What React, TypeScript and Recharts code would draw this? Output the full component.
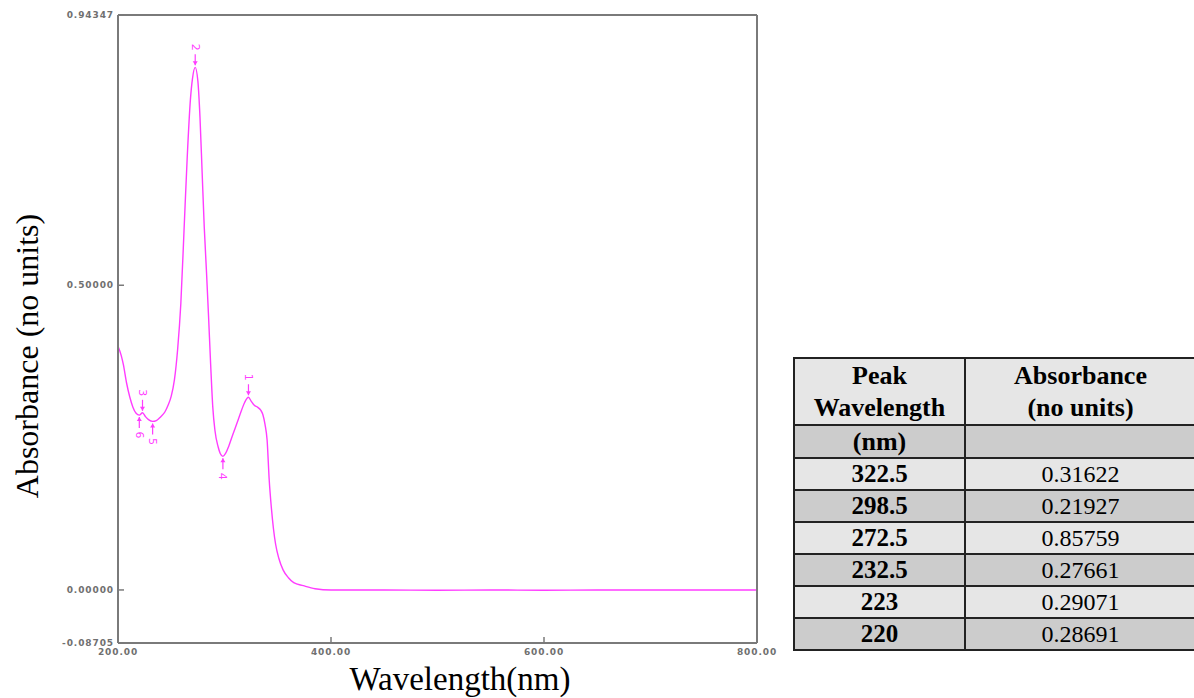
import { LineChart, Line, XAxis, YAxis, ReferenceDot } from 'recharts';

// UV-Vis absorbance spectrum
const wavelengths = [
  200, 203, 205, 208, 211, 214, 217, 220, 223, 226, 229, 232.5, 236, 240, 244, 247, 250, 253, 256, 259,
  262, 265, 268, 270, 272.5, 275, 277, 279, 281, 283, 285, 287, 289, 291, 294, 296, 298.5, 301, 304,
  308, 312, 316, 319, 322.5, 325, 328, 331, 334, 336, 338, 340, 342, 344, 346, 348, 351, 355, 360,
  365, 374, 385, 400, 450, 500, 550, 600, 650, 700, 750, 800,
];
const absorbance = [
  0.4, 0.385, 0.37, 0.34, 0.317, 0.3, 0.29, 0.28691, 0.29071, 0.284, 0.279, 0.27661, 0.278, 0.284, 0.292,
  0.303, 0.318, 0.345, 0.395, 0.47, 0.59, 0.71, 0.805, 0.84, 0.85759, 0.835, 0.775, 0.685, 0.595, 0.525,
  0.45, 0.37, 0.3, 0.262, 0.235, 0.224, 0.21927, 0.224, 0.236, 0.256, 0.275, 0.295, 0.308, 0.31622,
  0.31, 0.303, 0.3, 0.295, 0.288, 0.272, 0.246, 0.18, 0.135, 0.1, 0.075, 0.052, 0.033, 0.02, 0.012,
  0.007, 0.002, 0.0, 0.0, -0.0005, 0.0, -0.0005, 0.0, 0.0, 0.0, 0.0,
];

const xTicks = [200, 400, 600, 800];
const yTicks = [-0.08705, 0, 0.5, 0.94347];

// numbered peak / valley markers on the trace
const peakIds = [1, 2, 3, 4, 5, 6];
const peakNm = [322.5, 272.5, 223, 298.5, 232.5, 220];
const peakAbs = [0.31622, 0.85759, 0.29071, 0.21927, 0.27661, 0.28691];
const peakUp = [true, true, true, false, false, false];

// table on the right
const tableNm = ['322.5', '298.5', '272.5', '232.5', '223', '220'];
const tableAbs = ['0.31622', '0.21927', '0.85759', '0.27661', '0.29071', '0.28691'];

const PINK = '#ff3cff';
const AXIS = '#7a7a7a';

const data = wavelengths.map((nm, i) => ({ nm, abs: absorbance[i] }));

const tickStyle = {
  fontFamily: '"DejaVu Sans", sans-serif',
  fontSize: 9,
  fontWeight: 700,
  letterSpacing: 0.9,
  fill: '#707070',
};

const PeakMark = (props: any) => {
  const { cx, cy, id, up } = props;
  const s = up ? -1 : 1;
  const tip = cy + s * 2;
  const ty = tip + s * 18;
  return (
    <g>
      <line x1={cx} y1={tip} x2={cx} y2={tip + s * 11} stroke={PINK} strokeWidth={1.2} />
      <path d={`M${cx - 2.5},${tip + s * 4} L${cx},${tip} L${cx + 2.5},${tip + s * 4}Z`} fill={PINK} />
      <text
        x={cx}
        y={ty}
        transform={`rotate(90 ${cx} ${ty})`}
        textAnchor="middle"
        dominantBaseline="central"
        fontFamily='"DejaVu Sans", sans-serif'
        fontSize={11}
        fill={PINK}
      >
        {id}
      </text>
    </g>
  );
};

const rowBg = (i: number) => (i % 2 === 0 ? '#e6e6e6' : '#cccccc');

const cell = {
  border: '2px solid #222',
  padding: 0,
  textAlign: 'center' as const,
  fontFamily: '"Liberation Serif", "Times New Roman", serif',
  lineHeight: 1.2,
};

export default function App() {
  return (
    <div style={{ position: 'absolute', left: 0, top: 0, width: 1194, height: 698, background: '#fff', overflow: 'hidden' }}>
      <LineChart width={790} height={698} data={data} margin={{ top: 14, right: 32, left: 0, bottom: 25 }}>
        <XAxis
          dataKey="nm"
          type="number"
          domain={[200, 800]}
          ticks={xTicks}
          interval={0}
          tickFormatter={(v: number) => v.toFixed(2)}
          tick={tickStyle}
          tickSize={-6}
          tickMargin={12}
          height={30}
          axisLine={{ stroke: AXIS, strokeWidth: 2 }}
          tickLine={{ stroke: AXIS, strokeWidth: 1.5 }}
        />
        <XAxis
          xAxisId="top"
          orientation="top"
          dataKey="nm"
          type="number"
          domain={[200, 800]}
          height={1}
          tick={() => <g />}
          tickLine={false}
          axisLine={{ stroke: AXIS, strokeWidth: 2 }}
        />
        <YAxis
          type="number"
          domain={[-0.08705, 0.94347]}
          ticks={yTicks}
          interval={0}
          allowDataOverflow
          tickFormatter={(v: number) => v.toFixed(5)}
          tick={tickStyle}
          tickSize={-6}
          tickMargin={10}
          width={118}
          axisLine={{ stroke: AXIS, strokeWidth: 2 }}
          tickLine={{ stroke: AXIS, strokeWidth: 1.5 }}
        />
        <YAxis
          yAxisId="right"
          orientation="right"
          type="number"
          domain={[-0.08705, 0.94347]}
          ticks={[0.5]}
          interval={0}
          width={1}
          tick={() => <g />}
          tickSize={-7}
          axisLine={{ stroke: AXIS, strokeWidth: 2 }}
          tickLine={{ stroke: AXIS, strokeWidth: 1.5 }}
        />
        <Line
          type="monotone"
          dataKey="abs"
          stroke={PINK}
          strokeWidth={1.4}
          dot={false}
          isAnimationActive={false}
        />
        {peakIds.map((id, i) => (
          <ReferenceDot
            key={id}
            x={peakNm[i]}
            y={peakAbs[i]}
            shape={(p: any) => <PeakMark {...p} id={id} up={peakUp[i]} />}
          />
        ))}
      </LineChart>

      <div
        style={{
          position: 'absolute',
          left: 27,
          top: 356,
          transform: 'translate(-50%, -50%) rotate(-90deg)',
          whiteSpace: 'nowrap',
          lineHeight: 1,
          fontFamily: '"Liberation Serif", "Times New Roman", serif',
          fontSize: 32,
        }}
      >
        Absorbance (no units)
      </div>
      <div
        style={{
          position: 'absolute',
          left: 460,
          top: 663,
          transform: 'translateX(-50%)',
          whiteSpace: 'nowrap',
          lineHeight: 1,
          fontFamily: '"Liberation Serif", "Times New Roman", serif',
          fontSize: 33,
        }}
      >
        Wavelength(nm)
      </div>

      <table
        style={{
          position: 'absolute',
          left: 793,
          top: 357,
          width: 402,
          borderCollapse: 'collapse',
          tableLayout: 'fixed',
        }}
      >
        <colgroup>
          <col style={{ width: 171 }} />
          <col style={{ width: 231 }} />
        </colgroup>
        <tbody>
          <tr style={{ height: 67, background: '#e6e6e6' }}>
            <td style={{ ...cell, fontWeight: 700, fontSize: 26 }}>Peak<br />Wavelength</td>
            <td style={{ ...cell, fontWeight: 700, fontSize: 26 }}>Absorbance<br />(no units)</td>
          </tr>
          <tr style={{ height: 33, background: '#cccccc' }}>
            <td style={{ ...cell, fontWeight: 700, fontSize: 26 }}>(nm)</td>
            <td style={cell}></td>
          </tr>
          {tableNm.map((nm, i) => (
            <tr key={nm} style={{ height: 31.5, background: rowBg(i) }}>
              <td style={{ ...cell, fontWeight: 700, fontSize: 25 }}>{nm}</td>
              <td style={{ ...cell, fontSize: 24 }}>{tableAbs[i]}</td>
            </tr>
          ))}
        </tbody>
      </table>
    </div>
  );
}
